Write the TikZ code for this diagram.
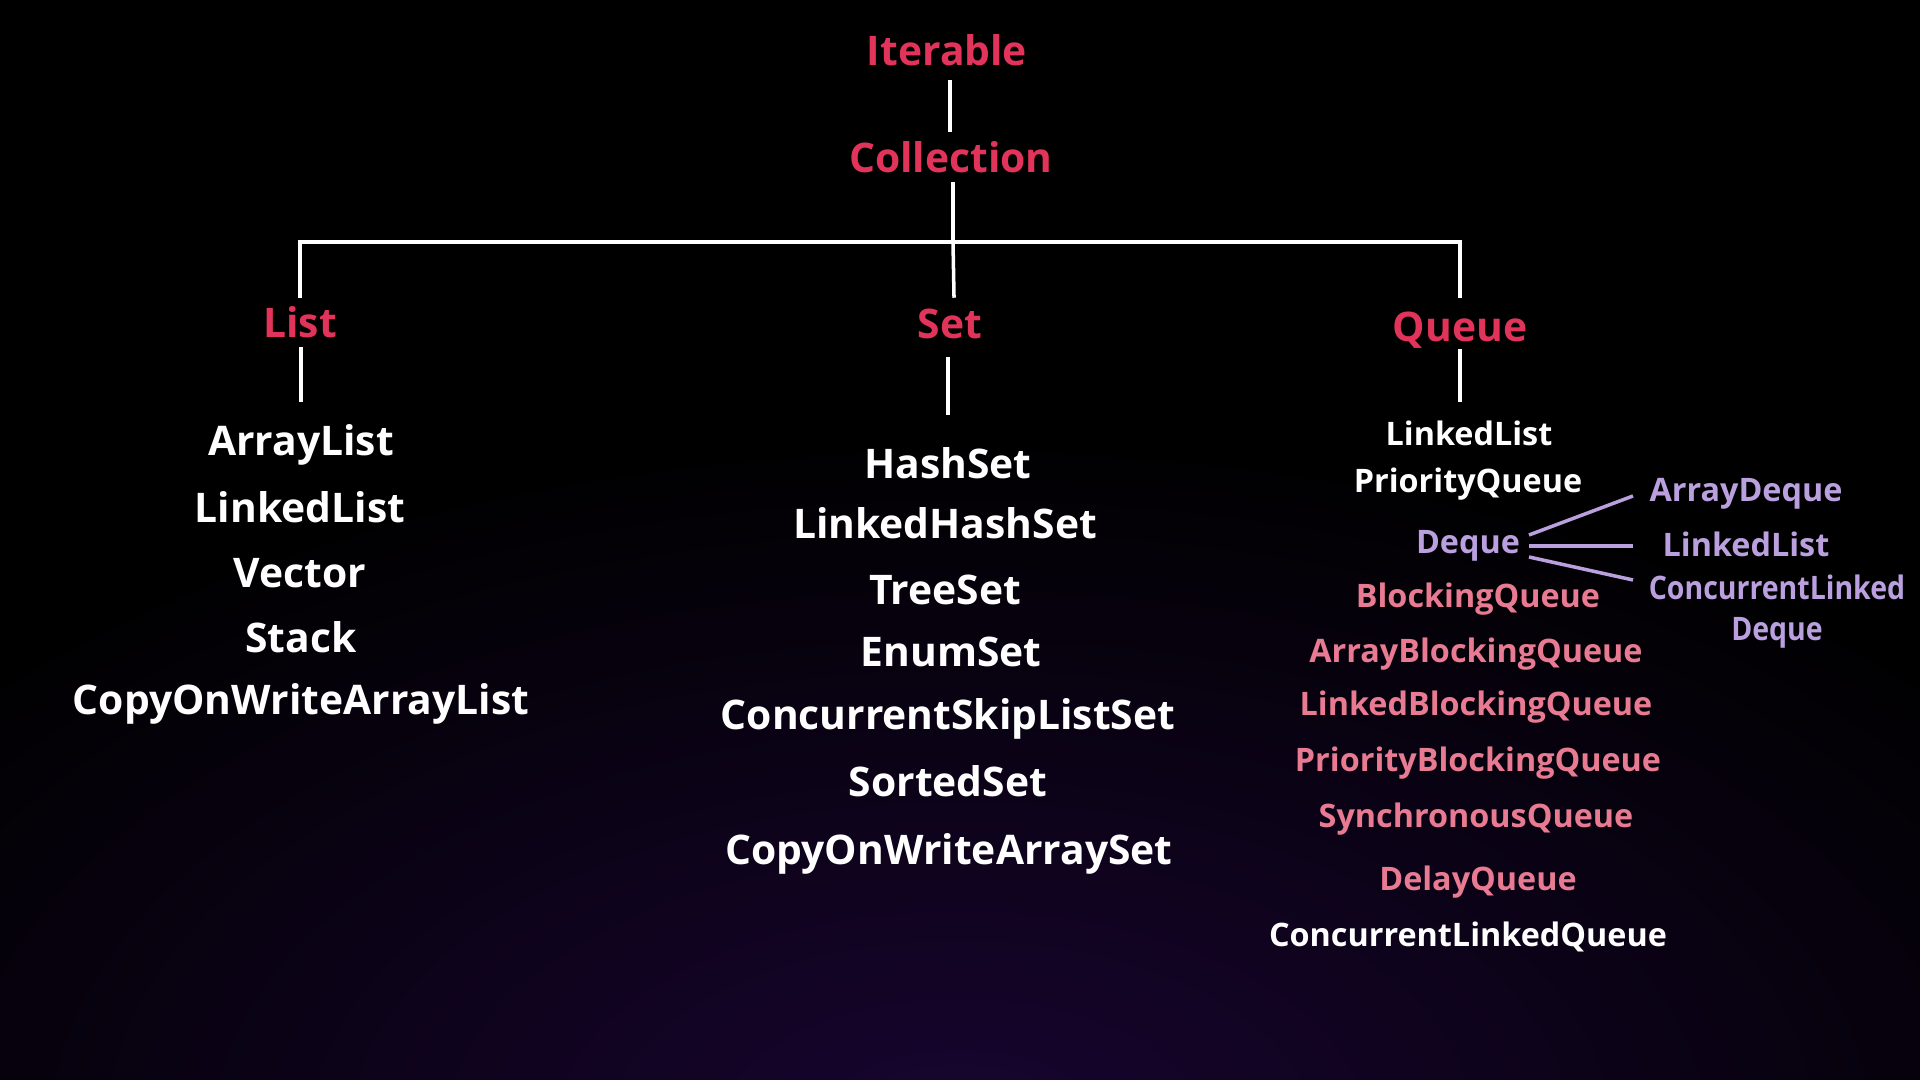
\documentclass[tikz,border=0pt]{standalone}
\usepackage{fontspec}
\setmainfont{Open Sans}
\definecolor{tred}{RGB}{226,52,90}
\definecolor{tpink}{RGB}{232,122,146}
\definecolor{tlav}{RGB}{186,160,222}
\definecolor{glow}{RGB}{24,5,48}
\begin{document}
\begin{tikzpicture}[x=0.01cm,y=-0.01cm,
  lbl/.style={inner sep=0pt, text height=0.72em, text depth=0pt, yshift=-0.7pt},
  titlelbl/.style={lbl, text=tred, font=\fontsize{11.6}{13}\selectfont\bfseries},
  biglbl/.style={lbl, text=white, font=\fontsize{11.6}{14}\selectfont\bfseries},
  smalllbl/.style={inner sep=0pt, text height=0.72em, text depth=0pt, yshift=0.1pt, text=white, font=\fontsize{9.2}{11}\selectfont\bfseries},
  pinklbl/.style={smalllbl, text=tpink},
  lavlbl/.style={smalllbl, text=tlav},
  link/.style={draw=white, line width=1pt, line cap=rect},
  dlink/.style={draw=tlav, line width=1pt}]
% background
\fill[black] (0,0) rectangle (1920,1080);
\begin{scope}
  \clip (0,0) rectangle (1920,1080);
  \shade[inner color=glow, outer color=black] (960,1130) ellipse (1300 and 700);
\end{scope}
\useasboundingbox (0,0) rectangle (1920,1080);

% titles
\node[titlelbl] (iter)  at (947,50)  {Iterable};
\node[titlelbl] (coll)  at (951,157) {Collection};
\node[titlelbl] (list)  at (300,322) {List};
\node[titlelbl] (set)   at (950,323) {Set};
\node[titlelbl] (queue) at (1460,326) {Queue};

% tree connectors
\coordinate (a1) at (950,82);
\coordinate (a2) at (950,130);
\coordinate (b1) at (953,184);
\coordinate (jM) at (953,242);
\coordinate (jL) at (300,242);
\coordinate (jR) at (1460,242);
\coordinate (sL) at (300,296);
\coordinate (sM) at (954,296);
\coordinate (sR) at (1460,296);
\coordinate (lL1) at (301,349);
\coordinate (lL2) at (301,400);
\coordinate (lS1) at (948,359);
\coordinate (lS2) at (948,413);
\coordinate (lQ1) at (1460,351);
\coordinate (lQ2) at (1460,400);
\draw[link] (a1) -- (a2);
\draw[link] (b1) -- (jM);
\draw[link] (jL) -- (jR);
\draw[link] (jL) -- (sL);
\draw[link] (jM) -- (sM);
\draw[link] (jR) -- (sR);
\draw[link] (lL1) -- (lL2);
\draw[link] (lS1) -- (lS2);
\draw[link] (lQ1) -- (lQ2);

% List column
\node[biglbl] (al)   at (301,440) {ArrayList};
\node[biglbl] (ll)   at (300,507) {LinkedList};
\node[biglbl] (vec)  at (300,572) {Vector};
\node[biglbl] (stk)  at (301,637) {Stack};
\node[biglbl] (cowl) at (301,699) {CopyOnWriteArrayList};

% Set column
\node[biglbl] (hs)   at (948,463) {HashSet};
\node[biglbl] (lhs)  at (945,523) {LinkedHashSet};
\node[biglbl] (ts)   at (945,589) {TreeSet};
\node[biglbl] (es)   at (951,651) {EnumSet};
\node[biglbl] (csls) at (948,714) {ConcurrentSkipListSet};
\node[biglbl] (ss)   at (948,781) {SortedSet};
\node[biglbl] (cows) at (949,849) {CopyOnWriteArraySet};

% Queue column
\node[smalllbl] (qll)  at (1469,433) {LinkedList};
\node[smalllbl] (pq)   at (1468,480) {PriorityQueue};
\node[lavlbl]   (dq)   at (1468,541) {Deque};
\node[pinklbl]  (bq)   at (1478,595) {BlockingQueue};
\node[pinklbl]  (abq)  at (1476,650) {ArrayBlockingQueue};
\node[pinklbl]  (lbq)  at (1476,703) {LinkedBlockingQueue};
\node[pinklbl]  (pbq)  at (1478,759) {PriorityBlockingQueue};
\node[pinklbl]  (sq)   at (1476,815) {SynchronousQueue};
\node[pinklbl]  (dlq)  at (1478,878) {DelayQueue};
\node[smalllbl] (clq)  at (1468,934) {ConcurrentLinkedQueue};

% Deque implementations
\node[lavlbl] (ad)  at (1746,489) {ArrayDeque};
\node[lavlbl] (dll) at (1746,544) {LinkedList};
\node[text=tlav, inner sep=0pt, align=center, yshift=0pt,
  font=\fontsize{9.2}{11.7}\selectfont\bfseries\addfontfeatures{FakeStretch=0.88}]
  (cld) at (1777,612) {ConcurrentLinked\\Deque};

\coordinate (d0a) at (1529,535);
\coordinate (d0b) at (1529,546);
\coordinate (d0c) at (1529,557);
\coordinate (d1) at (1633,496);
\coordinate (d2) at (1633,546);
\coordinate (d3) at (1633,580);
\draw[dlink] (d0a) -- (d1);
\draw[dlink] (d0b) -- (d2);
\draw[dlink] (d0c) -- (d3);
\end{tikzpicture}
\end{document}
